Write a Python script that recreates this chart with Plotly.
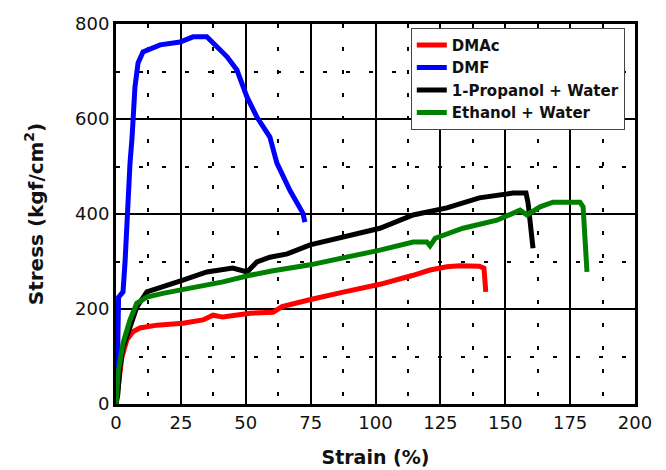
import plotly.graph_objects as go

# Strain (%) / Stress (kgf/cm^2)
dmac_x = [0, 1.0, 2.3, 4.2, 6.5, 9.2, 15.8, 25.8, 33.5, 37.4, 41.2, 51.6, 56, 60.5, 64, 66, 75, 88, 101.7, 114.5, 121, 127.5, 132.5, 140, 141.8, 142.5]
dmac_y = [0, 45, 99, 135, 152, 160, 166, 170, 177, 187, 183, 191, 191, 193, 205, 208, 220, 236, 252, 271, 282, 289, 291, 290, 286, 236]

dmf_x = [0, 0.5, 1.0, 2.0, 2.7, 3.5, 4.2, 5.4, 6.2, 7.3, 8.5, 10.4, 17, 24.7, 29.7, 35, 38.9, 42.8, 46.6, 50.5, 54.3, 59.3, 62, 67, 72, 72.8]
dmf_y = [0, 72, 225, 234, 236, 300, 387, 507, 562, 667, 718, 741, 756, 762, 773, 773, 752, 731, 703, 646, 604, 562, 507, 450, 402, 383]

prop_x = [0, 0.7, 1.5, 2.7, 5.4, 8, 11.9, 17, 25.8, 35, 45, 50.5, 54.3, 59.3, 66, 74.8, 87.5, 101.7, 114.5, 127.5, 140, 153, 158, 158.8, 160.7]
prop_y = [0, 20, 78, 120, 162, 204, 236, 246, 261, 278, 286, 278, 299, 309, 316, 335, 352, 370, 398, 413, 434, 444, 444, 423, 328]

eth_x = [0, 0.8, 2.7, 5.4, 8, 11.9, 18, 28.5, 41.2, 51.6, 60, 74.8, 88, 101.7, 114.5, 119.8, 121, 123, 133.7, 146.8, 155.7, 158.4, 163.4, 168.4, 178.8, 180, 181.5]
eth_y = [0, 65, 128, 177, 212, 225, 233, 244, 257, 271, 280, 293, 308, 324, 341, 341, 333, 349, 370, 387, 408, 398, 415, 425, 425, 415, 278]

names = ["DMAc", "DMF", "1-Propanol + Water", "Ethanol + Water"]
colors = ["#ff0000", "#0000ff", "#000000", "#008000"]

x_ticks = [0, 25, 50, 75, 100, 125, 150, 175, 200]
y_ticks = [0, 200, 400, 600, 800]

FONT = "DejaVu Sans, Verdana, sans-serif"

fig = go.Figure()
for nm, xs, ys, c in zip(names, [dmac_x, dmf_x, prop_x, eth_x],
                         [dmac_y, dmf_y, prop_y, eth_y], colors):
    fig.add_trace(go.Scatter(x=xs, y=ys, mode="lines", name="<b>" + nm + "</b>",
                             line=dict(color=c, width=5)))

axis_common = dict(
    showline=True, linecolor="black", linewidth=3, mirror=True,
    showgrid=True, gridcolor="black", gridwidth=1.5,
    zeroline=False, ticks="", automargin=False,
    tickfont=dict(family=FONT, size=18, color="#111"),
)

fig.update_xaxes(
    range=[0, 200], tickvals=x_ticks, ticktext=[str(v) for v in x_ticks],
    minor=dict(dtick=12.5, tick0=0, showgrid=True, gridcolor="black",
               gridwidth=2, griddash="4px,19px"),
    title=dict(text="<b>Strain (%)</b>", font=dict(family=FONT, size=19, color="#111"),
               standoff=20),
    **axis_common,
)
fig.update_yaxes(
    range=[0, 800], tickvals=y_ticks, ticktext=[str(v) for v in y_ticks],
    minor=dict(dtick=100, tick0=0, showgrid=True, gridcolor="black",
               gridwidth=2, griddash="4px,19px"),
    title=dict(text="<b>Stress (kgf/cm<sup>2</sup>)</b>",
               font=dict(family=FONT, size=20, color="#111"), standoff=27),
    **axis_common,
)

fig.update_layout(
    width=658, height=462,
    margin=dict(l=108, r=31, t=16, b=66),
    paper_bgcolor="white", plot_bgcolor="white",
    showlegend=True,
    legend=dict(x=0.568, y=0.99, xanchor="left", yanchor="top",
                bgcolor="white", bordercolor="#444", borderwidth=1,
                font=dict(family=FONT, size=15, color="#111"),
                itemwidth=30, tracegroupgap=0),
    font=dict(family=FONT),
)

fig.write_html("out.html")
